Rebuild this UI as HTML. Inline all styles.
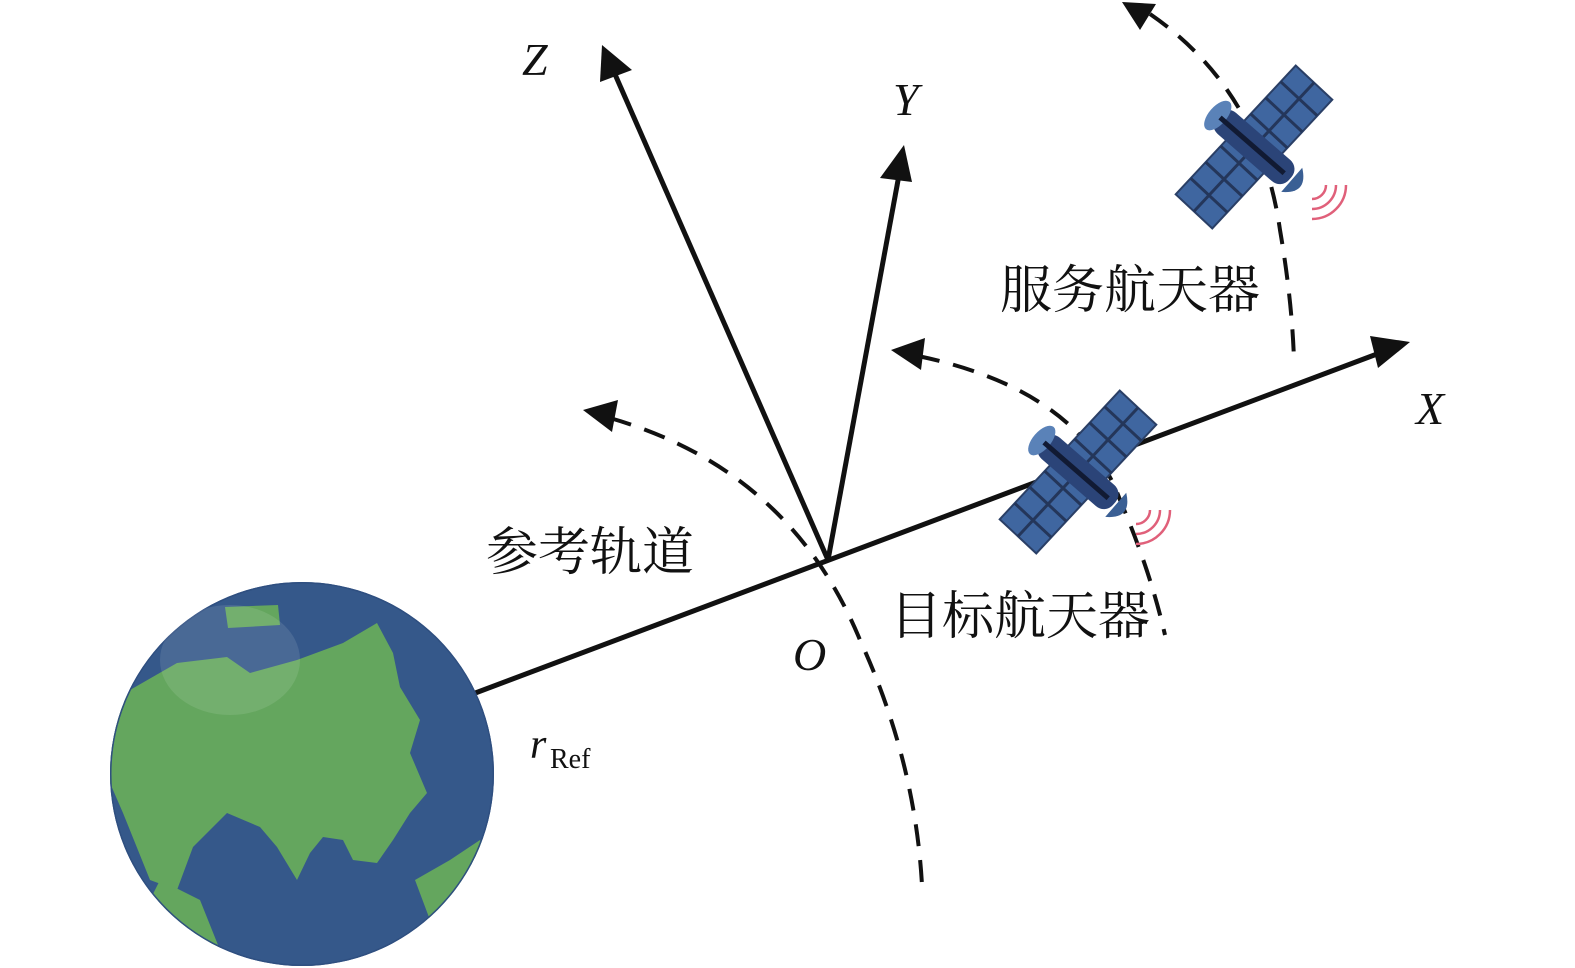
<!DOCTYPE html>
<html><head><meta charset="utf-8"><style>
html,body{margin:0;padding:0;background:#fff;}
svg{display:block;}
.cn{font-family:"Liberation Serif","Noto Serif CJK SC","Noto Sans CJK SC",serif;font-size:52px;fill:#111;}
.lab{font-family:"Liberation Serif",serif;font-style:italic;font-size:46px;fill:#111;}
</style></head><body>
<svg width="1575" height="968" viewBox="0 0 1575 968" xmlns="http://www.w3.org/2000/svg">
<defs>
<clipPath id="ec"><circle cx="302" cy="774" r="192"/></clipPath>
<g id="sat">
  <g transform="rotate(-47)">
    <rect x="-88" y="-25" width="176" height="50" fill="#3f66a0" stroke="#2a3f66" stroke-width="2"/>
    <line x1="-66" y1="-25" x2="-66" y2="25" stroke="#24365a" stroke-width="3"/>
    <line x1="-44" y1="-25" x2="-44" y2="25" stroke="#24365a" stroke-width="3"/>
    <line x1="-22" y1="-25" x2="-22" y2="25" stroke="#24365a" stroke-width="3"/>
    <line x1="22" y1="-25" x2="22" y2="25" stroke="#24365a" stroke-width="3"/>
    <line x1="44" y1="-25" x2="44" y2="25" stroke="#24365a" stroke-width="3"/>
    <line x1="66" y1="-25" x2="66" y2="25" stroke="#24365a" stroke-width="3"/>
    <line x1="-88" y1="0" x2="88" y2="0" stroke="#24365a" stroke-width="3"/>
  </g>
  <g transform="rotate(41)">
    <rect x="-48" y="-14" width="96" height="28" rx="12" fill="#2b4478"/>
    <ellipse cx="-48" cy="0" rx="9" ry="18" fill="#5a82b8"/>
    <line x1="-45" y1="0" x2="40" y2="0" stroke="#111a33" stroke-width="5"/>
    <path d="M50,-16 Q72,0 50,16 Z" fill="#3a5f94"/>
  </g>
  <g fill="none" stroke="#e0607a" stroke-width="2.5">
    <path d="M58,52 A14,14 0 0 0 72,38"/>
    <path d="M58,62 A24,24 0 0 0 82,38"/>
    <path d="M58,72 A34,34 0 0 0 92,38"/>
  </g>
</g>
</defs>

<g fill="none" stroke="#111" stroke-width="4" stroke-dasharray="22,14">
  <path d="M610,418 Q790,470 860,640 Q915,760 922,885"/>
  <path d="M918,356 Q1080,390 1120,500 Q1150,570 1165,635"/>
  <path d="M1150,14 Q1260,90 1280,230 Q1292,300 1294,360"/>
</g>
<polygon points="583,410 618,400 612,432" fill="#111"/>
<polygon points="891,350 925,338 921,370" fill="#111"/>
<polygon points="1122,2 1156,4 1140,30" fill="#111"/>

<g stroke="#111" stroke-width="5" fill="none">
  <line x1="470" y1="695" x2="1385" y2="351"/>
  <line x1="828" y1="560" x2="614" y2="72"/>
  <line x1="828" y1="560" x2="899" y2="175"/>
</g>
<polygon points="1410,342 1378,368 1370,336" fill="#111"/>
<polygon points="602,45 632,70 600,82" fill="#111"/>
<polygon points="904,145 912,182 880,178" fill="#111"/>

<circle cx="302" cy="774" r="192" fill="#35588a"/>
<g clip-path="url(#ec)">
  <polygon fill="#64a65e" points="117,713 130,690 177,663 227,657 250,673 297,660 343,643 377,623 393,653 400,687 420,720 410,753 427,793 410,813 393,840 377,863 353,860 343,840 323,837 310,853 297,880 277,847 260,827 227,813 193,847 177,890 150,880 123,813 100,760"/>
  <polygon fill="#64a65e" points="225,607 278,605 280,625 228,628"/>
  <polygon fill="#64a65e" points="160,880 200,900 220,950 180,960 140,920"/>
  <polygon fill="#64a65e" points="415,880 450,860 480,840 500,870 430,920"/>
  <circle cx="302" cy="774" r="192" fill="none" stroke="#2f4f80" stroke-width="3"/>
  <ellipse cx="230" cy="660" rx="70" ry="55" fill="#ffffff" opacity="0.1"/>
</g>

<use href="#sat" transform="translate(1078,472)"/>
<use href="#sat" transform="translate(1254,147)"/>

<text class="lab" x="522" y="75">Z</text>
<text class="lab" x="893" y="115">Y</text>
<text class="lab" x="1416" y="424">X</text>
<text class="lab" x="793" y="670">O</text>
<text class="lab" x="530" y="758" style="font-size:42px">r</text>
<text x="550" y="768" style="font-family:'Liberation Serif',serif;font-size:28px;fill:#111">Ref</text>

<text class="cn" x="1000" y="308">服务航天器</text>
<text class="cn" x="486" y="570">参考轨道</text>
<text class="cn" x="890" y="634">目标航天器</text>
</svg>
</body></html>
